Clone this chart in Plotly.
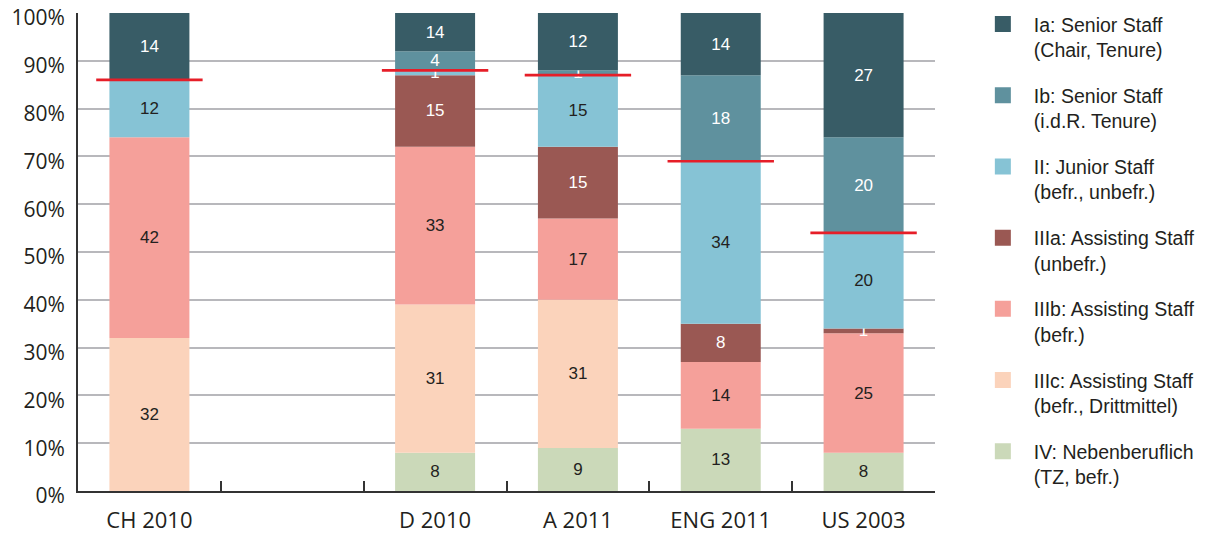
import numpy as np
import plotly.graph_objects as go

# categories (the blank slot keeps the gap between CH and D)
categories = ['CH 2010', '\u00a0', 'D 2010', 'A 2011', 'ENG 2011', 'US 2003']

# shares per staff group, bottom to top of each stack (None = no bar)
iv = [0, None, 8, 9, 13, 8]
iiic = [32, None, 31, 31, 0, 0]
iiib = [42, None, 33, 17, 14, 25]
iiia = [0, None, 15, 15, 8, 1]
ii = [12, None, 1, 15, 34, 20]
ib = [0, None, 4, 1, 18, 20]
ia = [14, None, 14, 12, 14, 27]

series = [
    ('IV: Nebenberuflich<br>(TZ, befr.)', iv, '#cbd9b9', '#231f20'),
    ('IIIc: Assisting Staff<br>(befr., Drittmittel)', iiic, '#fbd3bb', '#231f20'),
    ('IIIb: Assisting Staff<br>(befr.)', iiib, '#f5a09a', '#231f20'),
    ('IIIa: Assisting Staff<br>(unbefr.)', iiia, '#9a5853', 'white'),
    ('II: Junior Staff<br>(befr., unbefr.)', ii, '#86c3d5', '#231f20'),
    ('Ib: Senior Staff<br>(i.d.R. Tenure)', ib, '#5f919e', 'white'),
    ('Ia: Senior Staff<br>(Chair, Tenure)', ia, '#385c66', 'white'),
]

fig = go.Figure()

base = np.zeros(len(categories))
senior_line = None
for name, vals, color, tcolor in series:
    v = np.array([0 if x is None else x for x in vals], dtype=float)
    # the axis stops at 100 %, so stacks that add up to more are cut off
    shown = np.minimum(v, np.maximum(100 - base, 0))
    text = [str(x) if x else '' for x in vals]
    tcolors = ['white' if (x is not None and 0 < x < 3) else tcolor for x in vals]
    fig.add_trace(go.Bar(
        x=categories, y=shown, base=base, name=name,
        marker=dict(color=color, line=dict(width=0)),
        text=text, textposition='inside', insidetextanchor='middle',
        constraintext='none', textangle=0,
        textfont=dict(family='Liberation Sans', size=17, color=tcolors),
        showlegend=False,
        hovertemplate='%{x}: %{text}<extra>' + name.split('<br>')[0] + '</extra>',
    ))
    base = base + shown
    if vals is ii:
        senior_line = base.copy()

# legend entries (Ia on top) with bigger square swatches
for name, vals, color, tcolor in reversed(series):
    fig.add_trace(go.Scatter(
        x=[None], y=[None], mode='markers', name=name,
        legendgroup=name,
        marker=dict(symbol='square', size=16, color=color),
    ))

# red line: share of staff below the senior level
mask = [x is not None for x in ia]
fig.add_trace(go.Scatter(
    x=[c for c, m in zip(categories, mask) if m],
    y=[s for s, m in zip(senior_line, mask) if m],
    mode='markers',
    marker=dict(symbol='line-ew', size=76, line=dict(color='#e61e28', width=2.6)),
    showlegend=False, hoverinfo='skip',
))

fig.update_layout(
    width=1207, height=533,
    barmode='overlay', bargap=0.44,
    plot_bgcolor='white', paper_bgcolor='white',
    margin=dict(l=78, r=272, t=13, b=42, autoexpand=False),
    font=dict(family='Open Sans', color='#231f20'),
    legend=dict(
        x=1.043, y=1.017, xanchor='left', yanchor='top',
        traceorder='grouped', tracegroupgap=17.5,
        itemwidth=52, valign='top', maxheight=530,
        font=dict(family='Liberation Sans', size=19.5, color='#231f20'),
    ),
)
fig.update_xaxes(
    type='category', categoryorder='array', categoryarray=categories,
    range=[-0.5, len(categories) - 0.5], automargin=False,
    showline=True, linecolor='#333333', linewidth=2,
    ticks='inside', tickson='boundaries', ticklen=10, tickwidth=2, tickcolor='#333333',
    showgrid=False, tickfont=dict(size=22, family='Open Sans'),
    ticklabelstandoff=9,
)
fig.update_yaxes(
    range=[0, 100], dtick=10, ticksuffix='%', automargin=False,
    showline=True, linecolor='#333333', linewidth=2,
    showgrid=True, gridcolor='#b8b8bc', gridwidth=2,
    zeroline=False, tickfont=dict(size=21, family='Open Sans'),
    ticklabelstandoff=7, ticklabelshift=5, ticklabeloverflow='allow',
)

# the page body has a default 8px margin; drop it so the figure sits at 0,0
fig.write_html('out.html', config={'displayModeBar': False},
               post_script="document.body.style.margin='0';")
